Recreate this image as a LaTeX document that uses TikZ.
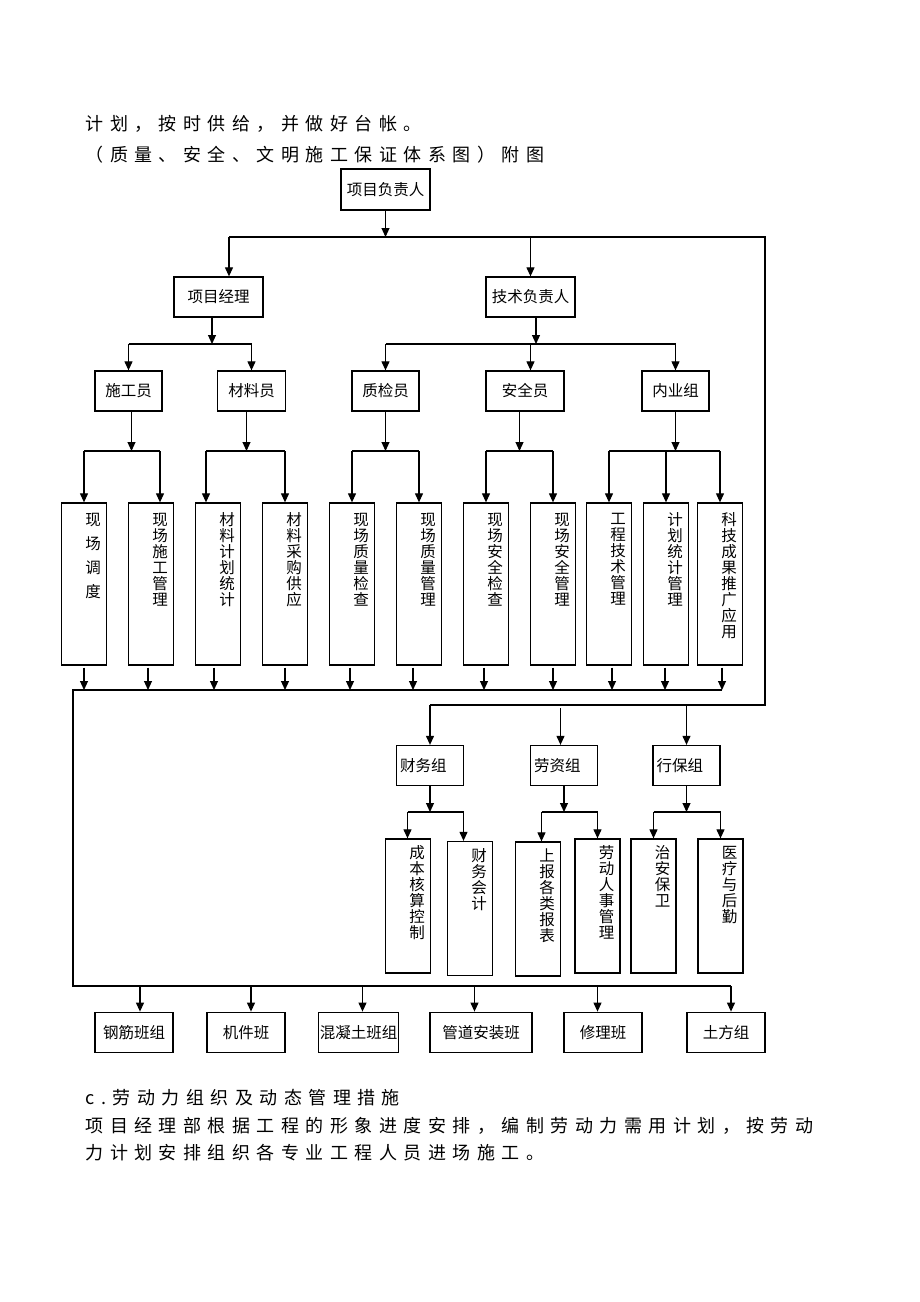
\documentclass[tikz,border=0pt]{standalone}
\usepackage{fontspec}
\setmainfont{Noto Sans CJK SC}
\newfontfamily\widecjk[LetterSpace=36]{Noto Sans CJK SC}
\usetikzlibrary{arrows.meta}

\begin{document}
\begin{tikzpicture}[x=1pt,y=-1pt,line width=1.1pt,>={Triangle[length=9pt,width=8pt]}]
    \tikzstyle{box}=[draw,line width=1.3pt,inner sep=0pt,font=\fontsize{15.5}{16}\selectfont]
    \tikzstyle{leaf}=[draw,line width=1.3pt,minimum width=45,inner sep=0pt]
    \tikzstyle{vtext}=[anchor=north,align=center,inner sep=0pt,font=\fontsize{15.5}{16}\selectfont]
    \tikzstyle{para}=[anchor=west,inner sep=0pt,font=\widecjk\fontsize{18}{27}\selectfont]

    \path[use as bounding box,fill=white] (0,0) rectangle (920,1302);

    % text round the chart
    \node[para] (line-1) at (85,124) {计划，按时供给，并做好台帐。};
    \node[para] (line-2) at (85,155) {（质量、安全、文明施工保证体系图）附图};
    \node[para] (line-3) at (85,1098) {c.劳动力组织及动态管理措施};
    \node[para] (line-4) at (85,1126) {项目经理部根据工程的形象进度安排，编制劳动力需用计划，按劳动};
    \node[para] (line-5) at (85,1153) {力计划安排组织各专业工程人员进场施工。};

    % boxes
    \node[box,minimum width=89,minimum height=41] (lead) at (385.5,189.5) {项目负责人};
    \node[box,minimum width=89,minimum height=40] (pm) at (218.5,297) {项目经理};
    \node[box,minimum width=89,minimum height=40] (tech) at (530.5,297) {技术负责人};
    \foreach \num/\x/\w/\txt in {1/128.5/67/施工员, 2/251.5/68/材料员, 3/385.5/67/质检员, 4/525/78/安全员, 5/675.5/67/内业组}
        \node[box,minimum width=\w,minimum height=40] (M-\num) at (\x,391) {\txt};

    \foreach \num/\x/\lsk/\txt in {1/84/24/现\\场\\调\\度, 2/151/16/现\\场\\施\\工\\管\\理,
            3/218/16/材\\料\\计\\划\\统\\计, 4/285/16/材\\料\\采\\购\\供\\应,
            5/352/16/现\\场\\质\\量\\检\\查, 6/419/16/现\\场\\质\\量\\管\\理,
            7/486/16/现\\场\\安\\全\\检\\查, 8/553/16/现\\场\\安\\全\\管\\理,
            9/609/16/工\\程\\技\\术\\管\\理, 10/666/16/计\\划\\统\\计\\管\\理,
            11/720/16/科\\技\\成\\果\\推\\广\\应\\用}
    {
        \node[leaf,minimum height=162] (L-\num) at (\x,584) {};
        \node[vtext,font=\fontsize{15.5}{\lsk}\selectfont] (T-\num) at ([xshift=9,yshift=-10]L-\num.north) {\txt};
    }

    \foreach \num/\x/\txt in {1/430/财务组, 2/564/劳资组, 3/686.5/行保组}
        \node[box,minimum width=67,minimum height=40,text width=60,align=left] (G-\num) at (\x,765.5) {\txt};

    \foreach \num/\x/\y/\txt in {1/408/906/成\\本\\核\\算\\控\\制, 2/470/908.5/财\\务\\会\\计,
            3/538/909/上\\报\\各\\类\\报\\表, 4/597.5/906/劳\\动\\人\\事\\管\\理,
            5/653.5/906/治\\安\\保\\卫, 6/720.5/906/医\\疗\\与\\后\\勤}
    {
        \node[leaf,minimum height=134] (S-\num) at (\x,\y) {};
        \node[vtext] (U-\num) at ([xshift=9,yshift=-7]S-\num.north) {\txt};
    }

    \foreach \num/\x/\w/\txt in {1/134/78/钢筋班组, 2/246/78/机件班, 3/358.5/80/混凝土班组,
            4/481/102/管道安装班, 5/603/78/修理班, 6/726/78/土方组}
        \node[box,minimum width=\w,minimum height=40.5] (B-\num) at (\x,1032.5) {\txt};

    % connectors
    \coordinate (top-l) at (229,237);
    \coordinate (top-r) at (765,237);
    \coordinate (side) at (765,705);
    \coordinate (bus-1) at (0,344);
    \coordinate (bus-2) at (0,451);
    \coordinate (bus-3) at (73,690);
    \coordinate (bus-4) at (73,986);
    \coordinate (bus-5) at (0,812);

    \draw[->] (lead) -- (lead |- top-l);
    \draw (top-l) -- (top-r) -- (side) -- (G-1.north |- side);
    \draw[->] (top-l) -- (top-l |- pm.north);
    \draw[->] (tech.north |- top-l) -- (tech.north);

    \draw[->] ([xshift=-6.5]pm.south) -- ([xshift=-6.5]pm.south |- bus-1);
    \draw (M-1.north |- bus-1) -- (M-2.north |- bus-1);
    \draw[->] ([xshift=5.5]tech.south) -- ([xshift=5.5]tech.south |- bus-1);
    \draw (M-3.north |- bus-1) -- (M-5.north |- bus-1);
    \foreach \n/\d in {1/0, 2/0, 3/0, 4/5.5, 5/0}
        \draw[->] ([xshift=\d]M-\n.north |- bus-1) -- ([xshift=\d]M-\n.north);

    \foreach \m/\d/\a/\da/\b/\db in {1/3/1/0/2/9, 2/-5/3/-12/4/0, 3/0/5/0/6/0, 4/-5.5/7/0/8/0, 5/0/9/0/11/0}
    {
        \draw[->] ([xshift=\d]M-\m.south) -- ([xshift=\d]M-\m.south |- bus-2);
        \draw ([xshift=\da]L-\a.north |- bus-2) -- ([xshift=\db]L-\b.north |- bus-2);
    }
    \foreach \n/\d in {1/0, 2/9, 3/-12, 4/0, 5/0, 6/0, 7/0, 8/0, 9/0, 10/0, 11/0}
        \draw[->] ([xshift=\d]L-\n.north |- bus-2) -- ([xshift=\d]L-\n.north);

    \foreach \n/\d in {1/0, 2/-3, 3/-4, 4/0, 5/-2, 6/-6, 7/-2, 8/0, 9/3, 10/-1, 11/2}
        \draw[->] ([xshift=\d,yshift=-2]L-\n.south) -- ([xshift=\d]L-\n.south |- bus-3);
    \draw ([xshift=2]L-11.south |- bus-3) -- (bus-3) -- (bus-4) -- ([xshift=5]B-6.north |- bus-4);
    \foreach \n/\d in {1/6, 2/5, 3/4, 4/-6.5, 5/-5.5, 6/5}
        \draw[->] ([xshift=\d]B-\n.north |- bus-4) -- ([xshift=\d]B-\n.north);

    \draw[->] (G-1.north |- side) -- (G-1.north);
    \draw[->] ([xshift=-3.5,yshift=-3]G-2.north |- side) -- ([xshift=-3.5]G-2.north);
    \draw[->] (G-3.north |- side) -- (G-3.north);

    \foreach \g/\a/\da/\b/\db in {1/1/-0.5/2/-6.5, 2/3/3.5/4/0, 3/5/0/6/0}
    {
        \draw[->] (G-\g.south) -- (G-\g.south |- bus-5);
        \draw ([xshift=\da]S-\a.north |- bus-5) -- ([xshift=\db]S-\b.north |- bus-5);
        \draw[->] ([xshift=\da]S-\a.north |- bus-5) -- ([xshift=\da]S-\a.north);
        \draw[->] ([xshift=\db]S-\b.north |- bus-5) -- ([xshift=\db]S-\b.north);
    }
\end{tikzpicture}
\end{document}
